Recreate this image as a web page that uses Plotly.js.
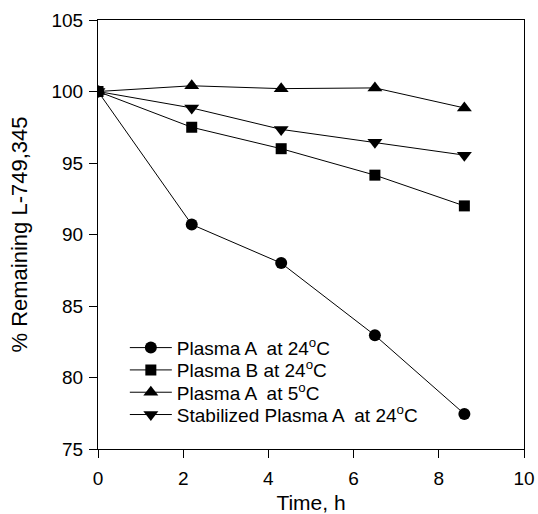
<!DOCTYPE html>
<html>
<head>
<meta charset="utf-8">
<script src="https://cdn.plot.ly/plotly-3.0.1.min.js"></script>
<style>html,body{margin:0;padding:0;background:#fff;}#chart{width:538px;height:514px;}</style>
</head>
<body>
<div id="chart"></div>
<script>
var timeH = [0, 2.2, 4.3, 6.5, 8.6];
var plasmaA24 = [100, 90.7, 88.0, 82.95, 77.45];
var plasmaB24 = [100, 97.5, 96.0, 94.15, 92.0];
var plasmaA5 = [100, 100.4, 100.2, 100.25, 98.85];
var stabilizedA24 = [100, 98.85, 97.35, 96.45, 95.55];
var seriesNames = ["Plasma A  at 24<sup>o</sup>C", "Plasma B at 24<sup>o</sup>C", "Plasma A  at 5<sup>o</sup>C", "Stabilized Plasma A  at 24<sup>o</sup>C"];
var xTicks = [0, 2, 4, 6, 8, 10];
var yTicks = [75, 80, 85, 90, 95, 100, 105];

var FF = 'Liberation Sans, Arial, sans-serif';
var legendIds = ['legend', 'legend2', 'legend3', 'legend4'];
var legendY = [0.236, 0.184, 0.132, 0.080];

function tr(y, i, sym, size) {
  return {x: timeH, y: y, name: seriesNames[i], type: 'scatter', mode: 'lines+markers',
    legend: legendIds[i],
    line: {color: '#000', width: 1},
    marker: {symbol: sym, size: size, color: '#000'}};
}
var data = [
  tr(plasmaA24, 0, 'circle', 12),
  tr(plasmaB24, 1, 'square', 11),
  tr(plasmaA5, 2, 'triangle-up', 13),
  tr(stabilizedA24, 3, 'triangle-down', 13)
];
function leg(i) {
  return {x: 0.063, y: legendY[i], xanchor: 'left', yanchor: 'middle', bgcolor: 'rgba(0,0,0,0)',
    font: {family: FF, size: 19, color: '#000'}, itemwidth: 42, borderwidth: 0};
}
var axFont = {family: FF, size: 19, color: '#000'};
var layout = {
  width: 538, height: 514,
  margin: {l: 98, r: 14, t: 20, b: 65},
  paper_bgcolor: '#fff', plot_bgcolor: '#fff',
  font: axFont,
  showlegend: true,
  legend: leg(0), legend2: leg(1), legend3: leg(2), legend4: leg(3),
  xaxis: {range: [0, 10], tickvals: xTicks, ticktext: xTicks.map(String),
    showgrid: false, zeroline: false, showline: true, linecolor: '#000', linewidth: 1, mirror: true,
    ticks: 'outside', ticklen: 8, tickcolor: '#000', tickfont: axFont, ticklabelstandoff: 4,
    title: {text: 'Time, h', font: {family: FF, size: 21, color: '#000'}, standoff: 12}},
  yaxis: {range: [75, 105], tickvals: yTicks, ticktext: yTicks.map(String),
    showgrid: false, zeroline: false, showline: true, linecolor: '#000', linewidth: 1, mirror: true,
    ticks: 'outside', ticklen: 8, tickcolor: '#000', tickfont: axFont, ticklabelstandoff: 2,
    title: {text: '% Remaining L-749,345', font: {family: FF, size: 22, color: '#000'}, standoff: 17}}
};
Plotly.newPlot('chart', data, layout, {displayModeBar: false, staticPlot: true});
</script>
</body>
</html>
